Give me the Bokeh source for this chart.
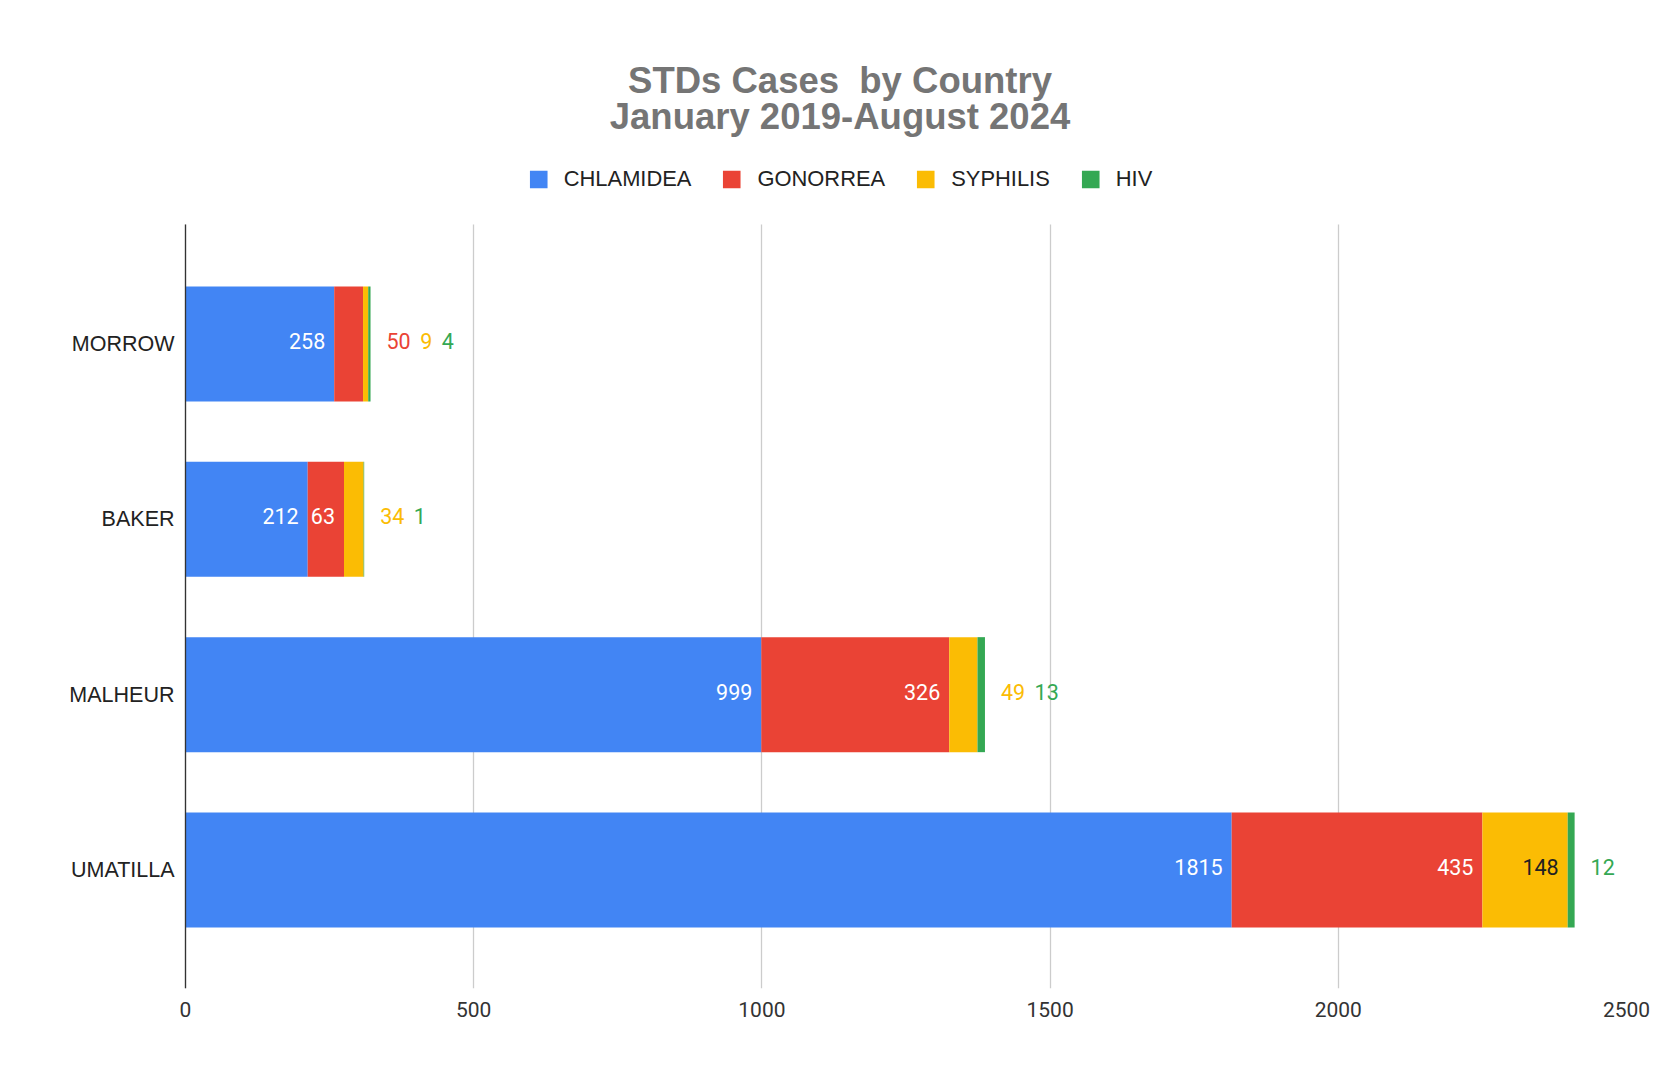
from bokeh.plotting import figure
from bokeh.models import ColumnDataSource, Range1d, FixedTicker, Title
from bokeh.core.properties import value
from bokeh.embed import file_html
from bokeh.resources import INLINE

# ---- data ----
counties = ["MORROW", "BAKER", "MALHEUR", "UMATILLA"]
chlamidea = [258, 212, 999, 1815]
gonorrea = [50, 63, 326, 435]
syphilis = [9, 34, 49, 148]
hiv = [4, 1, 13, 12]
series_names = ["CHLAMIDEA", "GONORREA", "SYPHILIS", "HIV"]
series_colors = ["#4285F4", "#EA4335", "#FBBC04", "#34A853"]
inside_label_colors = ["#ffffff", "#ffffff", "#212121", "#ffffff"]
x_ticks = [0, 500, 1000, 1500, 2000, 2500]
x_max = 2500
title_line1 = "STDs Cases\u00a0 by Country"
title_line2 = "January 2019-August 2024"

series = [chlamidea, gonorrea, syphilis, hiv]
keys = ["s%d" % k for k in range(len(series))]
n = len(counties)
cat_pos = [n - 1 - i for i in range(n)]          # MORROW on top

# ---- layout (screen pixels) ----
W, H = 1654, 1052
FRAME_L, ZERO_X, FRAME_R = 53, 185, 1626
FRAME_T, GRID_T, FRAME_B = 150, 224, 988
TOP_CAT_Y, CAT_PX = 343.5, 175.33
px_per_unit = (FRAME_R - ZERO_X) / float(x_max)
x_start = -(ZERO_X - FRAME_L) / px_per_unit
y_hi = (n - 1) + (TOP_CAT_Y - FRAME_T) / CAT_PX
y_lo = (n - 1) - (FRAME_B - TOP_CAT_Y) / CAT_PX
y_grid_top = (n - 1) + (TOP_CAT_Y - GRID_T) / CAT_PX

source = ColumnDataSource(dict(pos=cat_pos, county=counties,
                               **{k: s for k, s in zip(keys, series)}))

p = figure(width=W, height=H, output_backend="svg", toolbar_location=None,
           x_range=Range1d(x_start, x_max), y_range=Range1d(y_lo, y_hi),
           min_border_left=FRAME_L, min_border_right=W - FRAME_R,
           min_border_top=FRAME_T, min_border_bottom=H - FRAME_B)
p.outline_line_color = None
p.background_fill_color = "white"
p.border_fill_color = "white"

p.hbar_stack(keys, y="pos", height=0.656, color=series_colors, line_color=None,
             source=source, legend_label=series_names)

# ---- value labels ----
LABEL_FS = 21.5
digit_w = 0.5615 * LABEL_FS
in_d = dict(x=[], y=[], t=[], c=[])
out_d = dict(x=[], y=[], t=[], c=[], off=[])
for i, c in enumerate(counties):
    vals = [s[i] for s in series]
    total = sum(vals)
    cum = 0
    off = 16.0
    for j, v in enumerate(vals):
        cum += v
        tw = len(str(v)) * digit_w
        if v * px_per_unit >= tw + 10:
            in_d["x"].append(cum); in_d["y"].append(cat_pos[i]); in_d["t"].append(str(v))
            in_d["c"].append(inside_label_colors[j])
        else:
            out_d["x"].append(total); out_d["y"].append(cat_pos[i]); out_d["t"].append(str(v))
            out_d["c"].append(series_colors[j]); out_d["off"].append(off)
            off += tw + 9.5

p.text(x="x", y="y", text="t", text_color="c", source=ColumnDataSource(in_d),
       text_font=value("Roboto"), text_font_size="%gpx" % LABEL_FS, text_align="right",
       text_baseline="middle", x_offset=-9, y_offset=-3)
p.text(x="x", y="y", text="t", text_color="c", x_offset="off", source=ColumnDataSource(out_d),
       text_font=value("Roboto"), text_font_size="%gpx" % LABEL_FS, text_align="left",
       text_baseline="middle", y_offset=-3)

# ---- axes ----
p.xaxis.ticker = FixedTicker(ticks=x_ticks)
p.xaxis.axis_line_color = None
p.xaxis.major_tick_line_color = None
p.xaxis.minor_tick_line_color = None
p.xaxis.major_label_text_font = "Roboto"
p.xaxis.major_label_text_font_size = "21px"
p.xaxis.major_label_text_color = "#333333"
p.xaxis.major_label_standoff = 7

p.yaxis.ticker = FixedTicker(ticks=cat_pos)
p.yaxis.major_label_overrides = {pos: name for pos, name in zip(cat_pos, counties)}
p.yaxis.fixed_location = 0
p.yaxis.bounds = (y_lo, y_grid_top)
p.yaxis.axis_line_color = "#333333"
p.yaxis.axis_line_width = 1.3
p.yaxis.major_tick_line_color = None
p.yaxis.major_tick_out = 0
p.yaxis.major_tick_in = 0
p.yaxis.minor_tick_line_color = None
p.yaxis.major_label_text_font = "Liberation Sans"
p.yaxis.major_label_text_font_size = "21.5px"
p.yaxis.major_label_text_color = "#222222"
p.yaxis.major_label_standoff = 11

p.xgrid.grid_line_color = "#cccccc"
p.xgrid.grid_line_width = 1.3
try:
    p.xgrid.cross_bounds = (y_lo, y_grid_top)
except Exception:
    pass
p.ygrid.grid_line_color = None

# ---- legend (inside the frame, above the grid area) ----
lg = p.legend[0]
lg.orientation = "horizontal"
lg.location = "top_center"
lg.margin = 16
lg.glyph_width = 22
lg.glyph_height = 22
lg.label_height = 22
lg.label_standoff = 15
lg.spacing = 29
lg.padding = 0
lg.border_line_color = None
lg.background_fill_alpha = 0
lg.label_text_font = "Liberation Sans"
lg.label_text_font_size = "21.9px"
lg.label_text_color = "#222222"

# ---- title lines ----
for txt, so in [(title_line2, 27.6), (title_line1, -43)]:
    t = Title(text=txt, align="center", standoff=so,
              text_font="Liberation Sans", text_font_style="bold",
              text_font_size="36.5px", text_color="#757575", text_line_height=0.85)
    p.add_layout(t, "above")

open("out.html", "w").write(file_html(p, INLINE))
